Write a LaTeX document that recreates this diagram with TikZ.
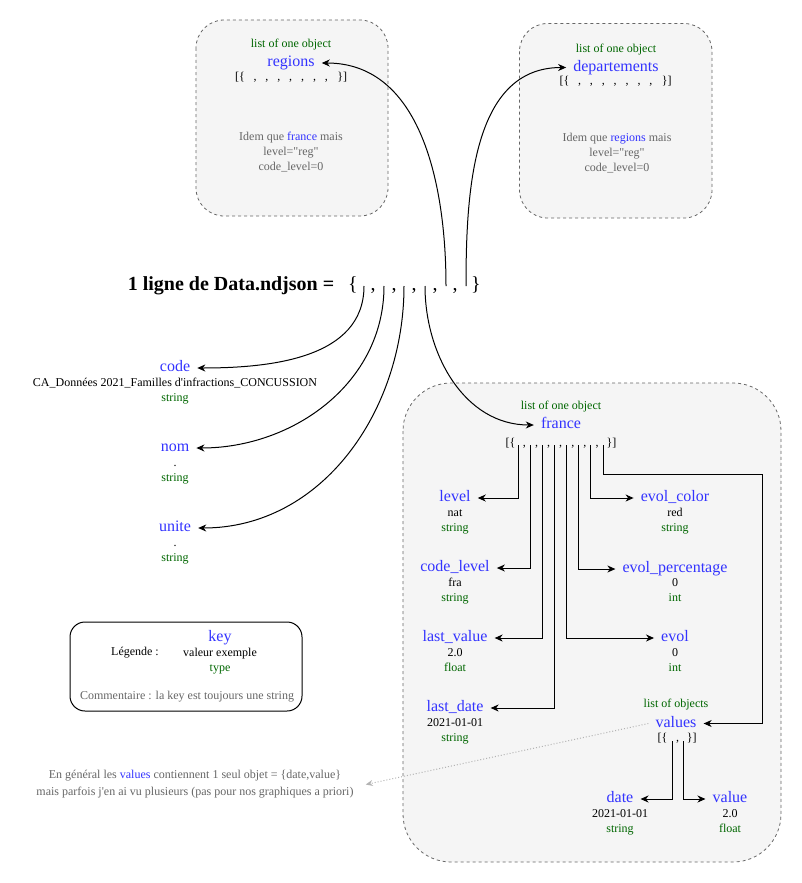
\documentclass[tikz,border=0pt]{standalone}
\usepackage{fontspec}
\setmainfont{Liberation Serif}[Ligatures=TeXOff]
\usetikzlibrary{arrows.meta}

\definecolor{keyblue}{RGB}{51,51,255}
\definecolor{typegreen}{RGB}{0,102,0}
\definecolor{notegray}{RGB}{102,102,102}
\definecolor{boxfill}{RGB}{245,245,245}
\definecolor{dotgray}{RGB}{179,179,179}

\newcommand{\kv}[2]{\strut #1\\\strut\textcolor{typegreen}{#2}}

\tikzset{
    keyname/.style={text=keyblue,font=\fontsize{16}{19}\selectfont,inner xsep=7pt,inner ysep=1pt,text height=11pt,text depth=3.5pt},
    valnode/.style={align=center,font=\fontsize{12}{14.5}\selectfont,inner sep=0pt},
    smalltext/.style={font=\fontsize{12}{14}\selectfont,inner sep=0pt},
    listof/.style={smalltext,text=typegreen},
    listrow/.style={smalltext,anchor=base},
    bracetext/.style={font=\fontsize{20}{24}\selectfont,anchor=base,inner sep=0pt},
    note/.style={align=center,font=\fontsize{12}{15}\selectfont,text=notegray,inner sep=0pt},
    objbox/.style={draw=notegray,dashed,fill=boxfill,line width=0.8pt},
    link/.style={-{Stealth[length=8pt,width=7pt,inset=2.5pt]},line width=1pt},
}

\begin{document}
\begin{tikzpicture}[x=1pt,y=-1pt]
        \useasboundingbox (0,0) rectangle (801,883);
        %% Boxes
        \draw[objbox,rounded corners=28pt] (196,20) rectangle (388,216);
        \draw[objbox,rounded corners=28pt] (519.5,23.5) rectangle (712,218);
        \draw[objbox,rounded corners=48pt] (403,383) rectangle (781,862);
        \draw[rounded corners=15pt,line width=1pt] (70,622) rectangle (302,711);

        %% regions
        \node[listof] (reglist) at (291,45) {list of one object};
        \node[keyname] (regions) at (291,63) {regions};
        \node[listrow] (regopen) at (240,80.5) {[\{};
        \foreach \k in {0,...,6} \node[listrow] (regcomma\k) at (255+11.9*\k,80.5) {,};
        \node[listrow] (regclose) at (342.3,80.5) {\}]};
        \node[note] (regnote) at (291,152) {Idem que \textcolor{keyblue}{france} mais\\level="reg"\\code\_level=0};

        %% departements
        \node[listof] (deplist) at (616,49.5) {list of one object};
        \node[keyname] (departements) at (616,67.5) {departements};
        \node[listrow] (depopen) at (564.5,84.5) {[\{};
        \foreach \k in {0,...,6} \node[listrow] (depcomma\k) at (579.5+11.9*\k,84.5) {,};
        \node[listrow] (depclose) at (666.8,84.5) {\}]};
        \node[note] (depnote) at (617,153) {Idem que \textcolor{keyblue}{regions} mais\\level="reg"\\code\_level=0};

        %% 1 ligne
        \node[font=\fontsize{20}{24}\selectfont\bfseries,anchor=base,inner sep=0pt] (title) at (231,290.5) {1 ligne de Data.ndjson =};
        \node[bracetext] (lbrace) at (353,290) {\{};
        \foreach \i/\x in {1/373,2/394,3/414,4/435,5/455} \node[bracetext] (comma\i) at (\x,290) {,};
        \node[bracetext] (rbrace) at (476,290) {\}};
        \foreach \i/\x in {1/364,2/384,3/404,4/425,5/446,6/466} \coordinate (slot\i) at (\x,286);

        %% code, nom, unite
        \node[keyname] (code) at (175,368) {code};
        \node[valnode] (code-v) at (175,391) {\kv{CA\_Données 2021\_Familles d'infractions\_CONCUSSION}{string}};
        \node[keyname] (nom) at (175,448) {nom};
        \node[valnode] (nom-v) at (175,471) {\kv{.}{string}};
        \node[keyname] (unite) at (175,528) {unite};
        \node[valnode] (unite-v) at (175,551) {\kv{.}{string}};

        %% france
        \node[listof] (frlist) at (561,407) {list of one object};
        \node[keyname] (france) at (561,425) {france};
        \node[listrow] (fropen) at (510.5,446.5) {[\{};
        \foreach \k in {0,...,6} \node[listrow] (frcomma\k) at (524.4+12.1*\k,446.5) {,};
        \node[listrow] (frclose) at (611.5,446.5) {\}]};
        \foreach \i in {1,...,8} \coordinate (fs\i) at (518.3+12.1*\i-12.1,445);

        \node[keyname] (level) at (455,498) {level};
        \node[valnode] (level-v) at (455,521) {\kv{nat}{string}};
        \node[keyname] (codelevel) at (455,568) {code\_level};
        \node[valnode] (codelevel-v) at (455,591) {\kv{fra}{string}};
        \node[keyname] (lastvalue) at (455,638) {last\_value};
        \node[valnode] (lastvalue-v) at (455,661) {\kv{2.0}{float}};
        \node[keyname] (lastdate) at (455,708) {last\_date};
        \node[valnode] (lastdate-v) at (455,731) {\kv{2021-01-01}{string}};
        \node[keyname] (evolcolor) at (675,498) {evol\_color};
        \node[valnode] (evolcolor-v) at (675,521) {\kv{red}{string}};
        \node[keyname] (evolpct) at (675,569) {evol\_percentage};
        \node[valnode] (evolpct-v) at (675,591) {\kv{0}{int}};
        \node[keyname] (evol) at (675,638) {evol};
        \node[valnode] (evol-v) at (675,661) {\kv{0}{int}};

        %% values
        \node[listof] (vallist) at (676,705) {list of objects};
        \node[keyname] (values) at (676,723.5) {values};
        \node[listrow] (valopen) at (662.5,741.5) {[\{};
        \node[listrow] (valcomma) at (677.5,741.5) {,};
        \node[listrow] (valclose) at (691.7,741.5) {\}]};
        \coordinate (vs1) at (672,741);
        \coordinate (vs2) at (683,741);
        \node[keyname] (date) at (620,799) {date};
        \node[valnode] (date-v) at (620,822) {\kv{2021-01-01}{string}};
        \node[keyname] (value) at (730,799) {value};
        \node[valnode] (value-v) at (730,822) {\kv{2.0}{float}};

        %% Legend
        \node[smalltext] (legendlabel) at (135,653) {Légende :};
        \node[keyname] (legendkey) at (220,638) {key};
        \node[valnode] (legendval) at (220,661) {\kv{valeur exemple}{type}};
        \node[note] (legendnote) at (187,697) {Commentaire : la key est toujours une string};
        \node[note,font=\fontsize{12}{17}\selectfont,inner xsep=12pt] (valuesnote) at (195,784.5) {En général les \textcolor{keyblue}{values} contiennent 1 seul objet = \{date,value\}\\mais parfois j'en ai vu plusieurs (pas pour nos graphiques a priori)};

        %% Links
        \draw[link] (slot1) to[out=-90,in=0] (code.east);
        \draw[link] (slot2) to[out=-90,in=0] (nom.east);
        \draw[link] (slot3) to[out=-90,in=0] (unite.east);
        \draw[link] (slot4) to[out=-90,in=180] (france.west);
        \draw[link] (slot5) to[out=90,in=0] (regions.east);
        \draw[link] (slot6) to[out=90,in=180] (departements.west);
        \draw[link] (fs1) |- (level.east);
        \draw[link] (fs2) |- (codelevel.east);
        \draw[link] (fs3) |- (lastvalue.east);
        \draw[link] (fs4) |- (lastdate.east);
        \draw[link] (fs5) |- (evol.west);
        \draw[link] (fs6) |- (evolpct.west);
        \draw[link] (fs7) |- (evolcolor.west);
        \draw[link] (fs8) |- ++(159,29) |- (values.east);
        \draw[link] (vs1) |- (date.east);
        \draw[link] (vs2) |- (value.west);
        \draw[dotted,dotgray,line width=1pt,-{Stealth[length=7pt,width=6pt]}] (values.west) -- (valuesnote.east);
\end{tikzpicture}
\end{document}
